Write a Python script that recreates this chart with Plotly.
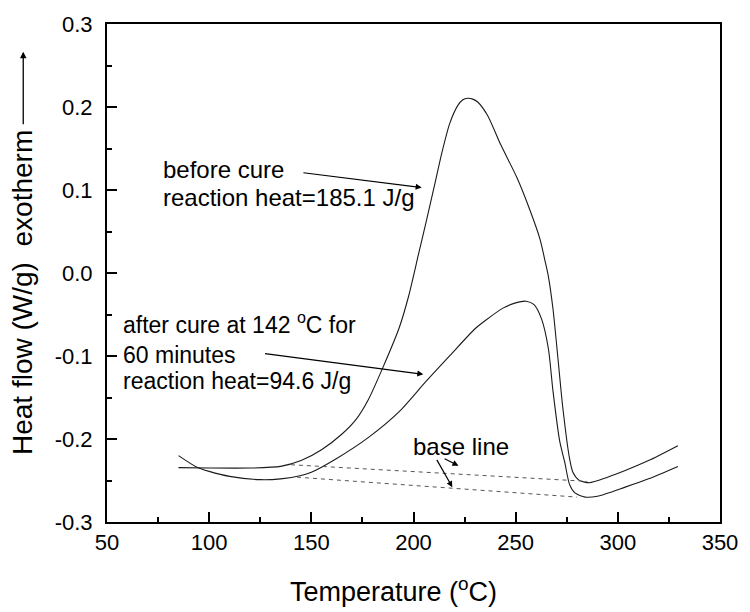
import plotly.graph_objects as go

# Before cure DSC curve
t_before = [85, 100, 120, 135, 145, 155, 165, 172, 178, 185, 193, 197.6, 202.4, 206.5,
            210.5, 213.7, 217.7, 221.7, 224, 226.5, 229, 231.4, 236.2, 242.6, 250.6, 257.1, 262,
            264.5, 266, 268.3, 270.7, 273.1, 276.4, 278, 281, 286, 295, 303.6, 315, 329.4]
hf_before = [-0.2345, -0.235, -0.235, -0.233, -0.226, -0.213, -0.194, -0.176, -0.152, -0.114,
             -0.066, -0.028, 0.022, 0.065, 0.108, 0.143, 0.180, 0.202, 0.2085, 0.2105, 0.2095,
             0.206, 0.19, 0.155, 0.115, 0.075, 0.04, 0.013, -0.004, -0.044, -0.103, -0.163,
             -0.224, -0.240, -0.2495, -0.2527, -0.246, -0.238, -0.226, -0.208]

# After cure DSC curve
t_after = [85, 94, 100, 110, 125, 135, 145, 150, 162, 178, 193, 206, 218, 230, 235, 244,
           250, 255, 259, 262.7, 266, 268.3, 271.5, 274, 276.4, 279, 284, 290, 303.6, 315, 329.4]
hf_after = [-0.220, -0.234, -0.239, -0.245, -0.249, -0.248, -0.244, -0.240, -0.224, -0.198,
            -0.167, -0.131, -0.099, -0.0675, -0.0575, -0.042, -0.036, -0.034, -0.038, -0.0556,
            -0.091, -0.143, -0.202, -0.228, -0.255, -0.265, -0.270, -0.269, -0.258, -0.248, -0.233]

# Base lines
base_upper_t = [140, 285]
base_upper_hf = [-0.231, -0.251]
base_lower_t = [143, 280]
base_lower_hf = [-0.246, -0.270]

x_ticks = [50, 100, 150, 200, 250, 300, 350]
y_ticks = [-0.3, -0.2, -0.1, 0.0, 0.1, 0.2, 0.3]
y_tick_text = ["-0.3", "-0.2", "-0.1", "0.0", "0.1", "0.2", "0.3"]

FONT = "Arial, Liberation Sans, sans-serif"

fig = go.Figure()
fig.add_trace(go.Scatter(x=t_before, y=hf_before, mode="lines",
                         line=dict(color="#1a1a1a", width=1.1, shape="spline", smoothing=0.7)))
fig.add_trace(go.Scatter(x=t_after, y=hf_after, mode="lines",
                         line=dict(color="#1a1a1a", width=1.1, shape="spline", smoothing=0.7)))
fig.add_trace(go.Scatter(x=base_upper_t, y=base_upper_hf, mode="lines",
                         line=dict(color="#555555", width=1, dash="4px,4px")))
fig.add_trace(go.Scatter(x=base_lower_t, y=base_lower_hf, mode="lines",
                         line=dict(color="#555555", width=1, dash="4px,4px")))

ann_font = dict(family=FONT, size=24, color="black")
ann_font2 = dict(family=FONT, size=23, color="black")
annotations = [
    dict(x=204, y=0.103, ax=145.4, ay=0.121, xref="x", yref="y", axref="x", ayref="y",
         showarrow=True, arrowhead=2, arrowsize=1, arrowwidth=1.2, arrowcolor="black", text=""),
    dict(x=204.8, y=-0.122, ax=126.6, ay=-0.097, xref="x", yref="y", axref="x", ayref="y",
         showarrow=True, arrowhead=2, arrowsize=1, arrowwidth=1.2, arrowcolor="black", text=""),
    dict(x=76.5, y=0.1245, xref="x", yref="y", text="before cure", showarrow=False,
         xanchor="left", yanchor="middle", font=ann_font),
    dict(x=76.5, y=0.0905, xref="x", yref="y", text="reaction heat=185.1 J/g", showarrow=False,
         xanchor="left", yanchor="middle", font=ann_font),
    dict(x=57.5, y=-0.060, xref="x", yref="y", text="after cure at 142 <sup>o</sup>C for",
         showarrow=False, xanchor="left", yanchor="middle", font=ann_font2, borderpad=0),
    dict(x=57.5, y=-0.0985, xref="x", yref="y", text="60 minutes", showarrow=False,
         xanchor="left", yanchor="middle", font=ann_font2, borderpad=0),
    dict(x=57.5, y=-0.1305, xref="x", yref="y", text="reaction heat=94.6 J/g", showarrow=False,
         xanchor="left", yanchor="middle", font=ann_font2, borderpad=0),
    dict(x=198.6, y=-0.2095, xref="x", yref="y", text="base line", showarrow=False,
         xanchor="left", yanchor="middle", font=ann_font),
    dict(x=222, y=-0.2321, ax=214.5, ay=-0.2229, xref="x", yref="y", axref="x", ayref="y",
         showarrow=True, arrowhead=2, arrowsize=1, arrowwidth=1.2, arrowcolor="black", text=""),
    dict(x=219, y=-0.258, ax=211, ay=-0.2233, xref="x", yref="y", axref="x", ayref="y",
         showarrow=True, arrowhead=2, arrowsize=1, arrowwidth=1.2, arrowcolor="black", text=""),
    # axis titles
    dict(x=(398 - 107) / 622, y=(522 - 591) / 504, xref="paper", yref="paper",
         text="Temperature (<sup>o</sup>C)", showarrow=False, xanchor="center", yanchor="middle",
         font=dict(family=FONT, size=27, color="black")),
    dict(x=(22 - 107) / 622, y=(522 - 290) / 504, xref="paper", yref="paper",
         text="Heat flow (W/g)  exotherm", textangle=-90, showarrow=False,
         xanchor="center", yanchor="middle", font=dict(family=FONT, size=28, color="black")),
    dict(x=(22 - 107) / 622, y=(522 - 46) / 504, xref="paper", yref="paper", ax=0, ay=74,
         text="", showarrow=True, arrowhead=2, arrowsize=1, arrowwidth=1.3, arrowcolor="black"),
]

fig.update_layout(
    width=750, height=612,
    margin=dict(l=107, r=21, t=18, b=90),
    paper_bgcolor="white", plot_bgcolor="white",
    showlegend=False,
    annotations=annotations,
    font=dict(family=FONT, color="black"),
)
fig.update_xaxes(range=[50, 350], tickvals=x_ticks, showgrid=False, zeroline=False,
                 showline=True, linecolor="black", linewidth=2, mirror=True,
                 ticks="inside", ticklen=10, tickwidth=2, tickcolor="black",
                 minor=dict(ticks="inside", ticklen=5, tickwidth=2, tickcolor="black", dtick=25),
                 tickfont=dict(family=FONT, size=22, color="black"))
fig.update_yaxes(range=[-0.3, 0.3], tickvals=y_ticks, ticktext=y_tick_text, showgrid=False,
                 zeroline=False, showline=True, linecolor="black", linewidth=2, mirror=True,
                 ticks="inside", ticklen=10, tickwidth=2, tickcolor="black",
                 minor=dict(ticks="inside", ticklen=5, tickwidth=2, tickcolor="black", dtick=0.05),
                 tickfont=dict(family=FONT, size=22, color="black"), ticklabelstandoff=8)

fig.write_html("out.html")
